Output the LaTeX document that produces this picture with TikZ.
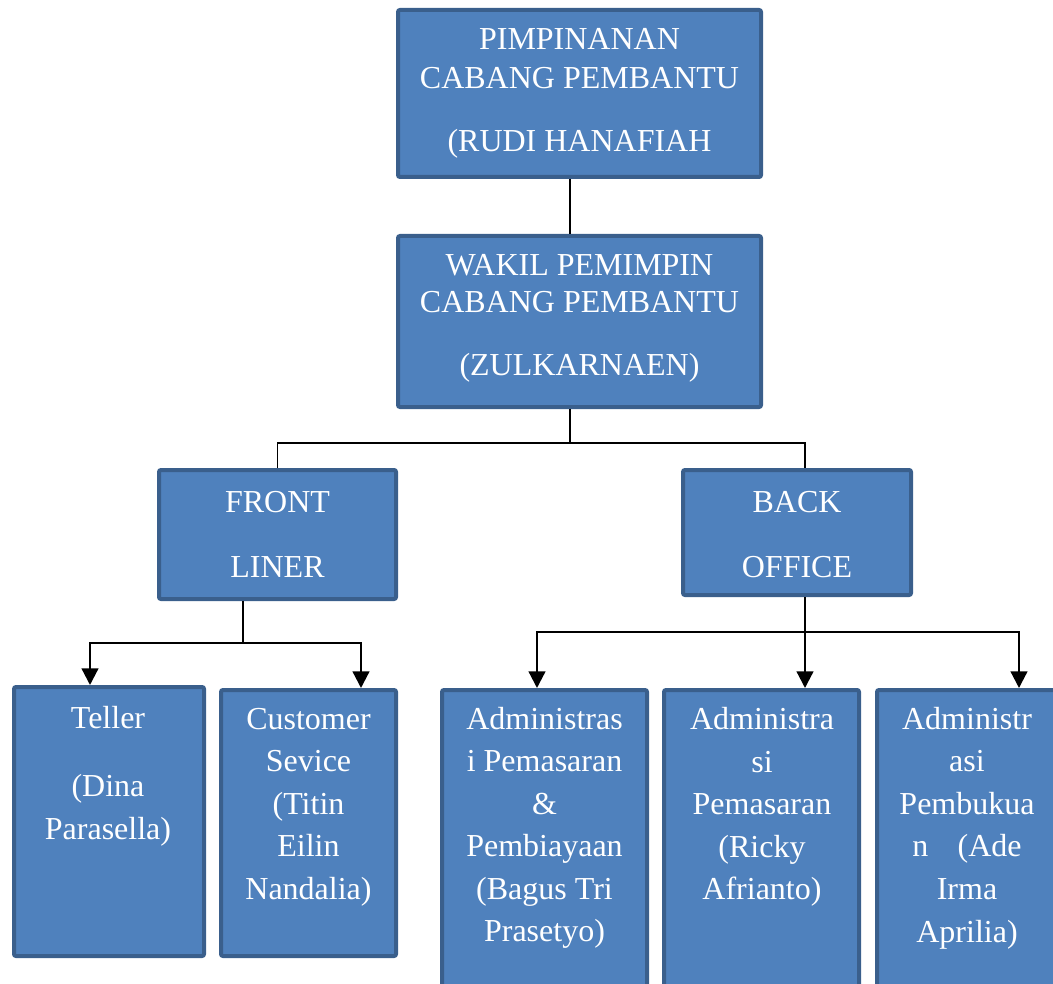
\documentclass[tikz,border=0pt]{standalone}
\usepackage{fontspec}
\setmainfont{Liberation Serif}
\usetikzlibrary{arrows.meta}
\definecolor{fillc}{HTML}{4F81BD}
\definecolor{bordc}{HTML}{3A5F8C}
\begin{document}
\begin{tikzpicture}[x=0.75pt,y=-0.75pt,
 bx/.style 2 args={draw=bordc, fill=fillc, line width=3pt, rounded corners=1.5pt, minimum width=#1*0.75pt, minimum height=#2*0.75pt, inner sep=0pt},
 txt/.style={text=white, align=center, inner sep=0pt, font=\fontsize{24}{#1}\selectfont},
 ln/.style={line width=1.2pt, draw=black},
 arr/.style={line width=1.7pt, draw=black, -{Triangle[width=12.5pt,length=12.5pt]}}]
\useasboundingbox (0,0) rectangle (1053,984);
\clip (0,0) rectangle (1053,984);
% boxes
\node[bx={363}{167}] (top) at (579.5,93.5) {};
\node[bx={363}{171}] (wakil) at (579.5,321.5) {};
\node[bx={237}{129}] (front) at (277.5,534.5) {};
\node[bx={228}{125}] (back) at (797,532.5) {};
\node[bx={190}{269}] (teller) at (109,821.5) {};
\node[bx={175}{266}] (cs) at (308.5,823) {};
\node[bx={205}{308}] (adm1) at (544.5,844) {};
\node[bx={195}{308}] (adm2) at (761.5,844) {};
\node[bx={186}{308}] (adm3) at (970,844) {};
% texts
\node[txt=29.25pt] (top-t) at (579.5,93) {PIMPINANAN\\CABANG PEMBANTU\\[18pt](RUDI HANAFIAH};
\node[txt=27.75pt] (wakil-t) at (579.5,318.5) {WAKIL PEMIMPIN\\CABANG PEMBANTU\\[20pt](ZULKARNAEN)};
\node[txt=48.75pt] (front-t) at (277.5,534.5) {FRONT\\LINER};
\node[txt=48.75pt] (back-t) at (797,534.5) {BACK\\OFFICE};
\node[txt=32pt] (teller-t) at (108,776) {Teller\\[19.5pt](Dina\\Parasella)};
\node[txt=31.9pt] (cs-t) at (308.5,807) {Customer\\Sevice\\(Titin\\Eilin\\Nandalia)};
\node[txt=31.9pt] (adm1-t) at (544.5,828) {Administras\\i Pemasaran\\\&\\Pembiayaan\\(Bagus Tri\\Prasetyo)};
\node[txt=31.9pt] (adm2-t) at (762,807) {Administra\\si\\Pemasaran\\(Ricky\\Afrianto)};
\node[txt=31.9pt] (adm3-t) at (967,828) {Administr\\asi\\Pembukua\\n\hspace{22pt}(Ade\\Irma\\Aprilia)};
% connectors
\coordinate (j1) at (570,443);
\coordinate (bk) at (805,443);
\draw[ln] (top.south -| j1) -- (wakil.north -| j1);
\draw[ln] (wakil.south -| j1) -- (j1);
\draw[ln] (front.north) |- (j1) -- (bk) -- (back.north -| bk);
\coordinate (f1) at (243,643);
\coordinate (t1) at (90,643);
\coordinate (c1) at (361,643);
\draw[ln] (front.south -| f1) -- (f1);
\draw[arr] (f1) -- (t1) -- (teller.north -| t1);
\draw[arr] (f1) -- (c1) -- (cs.north -| c1);
\coordinate (b1) at (805,632);
\coordinate (a1) at (537,632);
\coordinate (a3) at (1019,632);
\draw[arr] (back.south -| b1) -- (adm2.north -| b1);
\draw[arr] (b1) -- (a1) -- (adm1.north -| a1);
\draw[arr] (b1) -- (a3) -- (adm3.north -| a3);
\end{tikzpicture}
\end{document}
